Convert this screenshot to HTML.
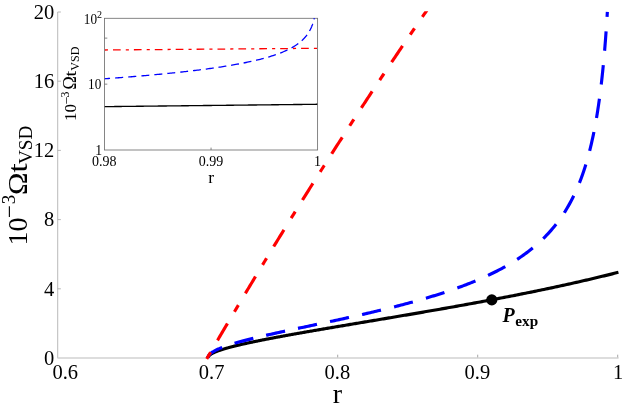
<!DOCTYPE html>
<html><head><meta charset="utf-8"><title>plot</title>
<style>html,body{margin:0;padding:0;background:#fff;}body{width:623px;height:408px;position:relative;overflow:hidden;font-family:"Liberation Serif",serif;}</style></head>
<body>
<svg width="623" height="408" viewBox="0 0 623 408" style="position:absolute;left:0;top:0;will-change:transform" font-family="'Liberation Serif', serif" fill="#000">
<rect width="623" height="408" fill="#fff"/>
<g stroke="#9c9c9c" stroke-width="0.7" fill="none">
<path d="M57.7,12 V358"/>
<path d="M57.7,288.80 h3.2"/>
<path d="M57.7,219.60 h3.2"/>
<path d="M57.7,150.40 h3.2"/>
<path d="M57.7,81.20 h3.2"/>
<path d="M57.7,12.00 h3.2"/>
<path d="M337.70,358 v-3.3" stroke="#808080"/>
<path d="M477.70,358 v-3.3" stroke="#808080"/>
<path d="M617.70,358 v-3.3" stroke="#808080"/>
</g>
<path d="M57.4,358 H618.6" stroke="#d2d2d2" stroke-width="1.6" fill="none"/>
<text x="54.3" y="364.80" font-size="20.5" text-anchor="end">0</text>
<text x="54.3" y="295.60" font-size="20.5" text-anchor="end">4</text>
<text x="54.3" y="226.40" font-size="20.5" text-anchor="end">8</text>
<text x="54.3" y="157.20" font-size="20.5" text-anchor="end">12</text>
<text x="54.3" y="88.00" font-size="20.5" text-anchor="end">16</text>
<text x="54.3" y="18.80" font-size="20.5" text-anchor="end">20</text>
<text x="65.3" y="379" font-size="20.5" text-anchor="middle">0.6</text>
<text x="211.6" y="379" font-size="20.5" text-anchor="middle">0.7</text>
<text x="337.4" y="379" font-size="20.5" text-anchor="middle">0.8</text>
<text x="477.4" y="379" font-size="20.5" text-anchor="middle">0.9</text>
<text x="618" y="379" font-size="20.5" text-anchor="middle">1</text>
<text x="337.5" y="403" font-size="28" text-anchor="middle">r</text>
<g transform="translate(26.2,244.7) rotate(-90)">
<text x="-0.7" y="0.5" font-size="28">10</text>
<text x="26.8" y="-8.9" font-size="23">−</text>
<text x="40.4" y="-11.1" font-size="19">3</text>
<text transform="translate(49.8,0.8) scale(1.08,1)" font-size="28">Ω</text>
<text transform="translate(72.1,0.3) scale(1.18,1)" font-size="28">t</text>
<text x="80.7" y="5.9" font-size="19.2">VSD</text>
</g>
<g stroke="#707070" stroke-width="0.85" fill="none">
<rect x="104.5" y="18.3" width="213.10000000000002" height="131.7"/>
<path d="M104.5,84.15 h2.8 M104.5,38.12 h2.8"/>
<path d="M211.05,150.0 v-2.4"/>
</g>
<clipPath id="ci"><rect x="104.5" y="17.5" width="213.10000000000002" height="132.5"/></clipPath>
<g clip-path="url(#ci)" fill="none" stroke-width="1.3">
<path d="M104.50,50.00 L317.60,48.30" stroke="#f00" stroke-dasharray="3.1 5.0 7.7 5.1" stroke-dashoffset="-0.4"/>
<path d="M104.50,78.80 L105.79,78.71 L107.07,78.62 L108.36,78.52 L109.65,78.43 L110.94,78.33 L112.22,78.24 L113.51,78.14 L114.80,78.04 L116.08,77.95 L117.37,77.85 L118.66,77.75 L119.95,77.65 L121.23,77.55 L122.52,77.45 L123.81,77.35 L125.09,77.25 L126.38,77.15 L127.67,77.04 L128.96,76.94 L130.24,76.83 L131.53,76.73 L132.82,76.62 L134.11,76.52 L135.39,76.41 L136.68,76.30 L137.97,76.19 L139.25,76.08 L140.54,75.97 L141.83,75.86 L143.12,75.75 L144.40,75.64 L145.69,75.53 L146.98,75.41 L148.26,75.30 L149.55,75.18 L150.84,75.07 L152.13,74.95 L153.41,74.83 L154.70,74.71 L155.99,74.59 L157.27,74.47 L158.56,74.35 L159.85,74.23 L161.14,74.10 L162.42,73.98 L163.71,73.85 L165.00,73.73 L166.28,73.60 L167.57,73.47 L168.86,73.34 L170.15,73.21 L171.43,73.08 L172.72,72.95 L174.01,72.81 L175.29,72.68 L176.58,72.54 L177.87,72.40 L179.16,72.27 L180.44,72.13 L181.73,71.99 L183.02,71.84 L184.31,71.70 L185.59,71.55 L186.88,71.41 L188.17,71.26 L189.45,71.11 L190.74,70.96 L192.03,70.81 L193.32,70.65 L194.60,70.50 L195.89,70.34 L197.18,70.18 L198.46,70.02 L199.75,69.86 L201.04,69.70 L202.33,69.53 L203.61,69.37 L204.90,69.20 L206.19,69.03 L207.47,68.86 L208.76,68.68 L210.05,68.50 L211.34,68.33 L212.62,68.15 L213.91,67.96 L215.20,67.78 L216.48,67.59 L217.77,67.40 L219.06,67.21 L220.35,67.02 L221.63,66.82 L222.92,66.62 L224.21,66.42 L225.50,66.21 L226.78,66.01 L228.07,65.80 L229.36,65.58 L230.64,65.37 L231.93,65.15 L233.22,64.92 L234.51,64.70 L235.79,64.47 L237.08,64.23 L238.37,64.00 L239.65,63.76 L240.94,63.51 L242.23,63.27 L243.52,63.01 L244.80,62.76 L246.09,62.49 L247.38,62.23 L248.66,61.96 L249.95,61.68 L251.24,61.40 L252.53,61.12 L253.81,60.82 L255.10,60.53 L256.39,60.22 L257.67,59.91 L258.96,59.60 L260.25,59.27 L261.54,58.94 L262.82,58.60 L264.11,58.26 L265.40,57.90 L266.68,57.54 L267.97,57.17 L269.26,56.78 L270.55,56.39 L271.83,55.99 L273.12,55.58 L274.41,55.15 L275.70,54.71 L276.98,54.26 L278.27,53.79 L279.56,53.31 L280.84,52.81 L282.13,52.30 L283.42,51.76 L284.71,51.21 L285.99,50.63 L287.28,50.03 L288.57,49.40 L289.85,48.75 L291.14,48.06 L292.43,47.34 L293.72,46.59 L295.00,45.79 L296.29,44.94 L296.34,44.91 L296.40,44.87 L296.45,44.84 L296.50,44.80 L296.56,44.76 L296.61,44.73 L296.66,44.69 L296.72,44.65 L296.77,44.62 L296.82,44.58 L296.87,44.54 L296.93,44.51 L296.98,44.47 L297.03,44.43 L297.09,44.40 L297.14,44.36 L297.19,44.32 L297.25,44.28 L297.30,44.25 L297.35,44.21 L297.41,44.17 L297.46,44.13 L297.51,44.09 L297.57,44.06 L297.62,44.02 L297.67,43.98 L297.72,43.94 L297.78,43.90 L297.83,43.86 L297.88,43.82 L297.94,43.79 L297.99,43.75 L298.04,43.71 L298.10,43.67 L298.15,43.63 L298.20,43.59 L298.26,43.55 L298.31,43.51 L298.36,43.47 L298.42,43.43 L298.47,43.39 L298.52,43.35 L298.58,43.31 L298.63,43.27 L298.68,43.23 L298.73,43.19 L298.79,43.15 L298.84,43.11 L298.89,43.07 L298.95,43.03 L299.00,42.99 L299.05,42.94 L299.11,42.90 L299.16,42.86 L299.21,42.82 L299.27,42.78 L299.32,42.74 L299.37,42.70 L299.43,42.65 L299.48,42.61 L299.53,42.57 L299.58,42.53 L299.64,42.48 L299.69,42.44 L299.74,42.40 L299.80,42.36 L299.85,42.31 L299.90,42.27 L299.96,42.23 L300.01,42.18 L300.06,42.14 L300.12,42.10 L300.17,42.05 L300.22,42.01 L300.28,41.96 L300.33,41.92 L300.38,41.88 L300.44,41.83 L300.49,41.79 L300.54,41.74 L300.59,41.70 L300.65,41.65 L300.70,41.61 L300.75,41.56 L300.81,41.52 L300.86,41.47 L300.91,41.42 L300.97,41.38 L301.02,41.33 L301.07,41.29 L301.13,41.24 L301.18,41.19 L301.23,41.15 L301.29,41.10 L301.34,41.05 L301.39,41.01 L301.44,40.96 L301.50,40.91 L301.55,40.86 L301.60,40.82 L301.66,40.77 L301.71,40.72 L301.76,40.67 L301.82,40.62 L301.87,40.58 L301.92,40.53 L301.98,40.48 L302.03,40.43 L302.08,40.38 L302.14,40.33 L302.19,40.28 L302.24,40.23 L302.29,40.18 L302.35,40.13 L302.40,40.08 L302.45,40.03 L302.51,39.98 L302.56,39.93 L302.61,39.88 L302.67,39.83 L302.72,39.78 L302.77,39.73 L302.83,39.67 L302.88,39.62 L302.93,39.57 L302.99,39.52 L303.04,39.47 L303.09,39.41 L303.15,39.36 L303.20,39.31 L303.25,39.26 L303.30,39.20 L303.36,39.15 L303.41,39.09 L303.46,39.04 L303.52,38.99 L303.57,38.93 L303.62,38.88 L303.68,38.82 L303.73,38.77 L303.78,38.71 L303.84,38.66 L303.89,38.60 L303.94,38.55 L304.00,38.49 L304.05,38.43 L304.10,38.38 L304.15,38.32 L304.21,38.26 L304.26,38.21 L304.31,38.15 L304.37,38.09 L304.42,38.03 L304.47,37.98 L304.53,37.92 L304.58,37.86 L304.63,37.80 L304.69,37.74 L304.74,37.68 L304.79,37.62 L304.85,37.56 L304.90,37.50 L304.95,37.44 L305.01,37.38 L305.06,37.32 L305.11,37.26 L305.16,37.20 L305.22,37.14 L305.27,37.08 L305.32,37.01 L305.38,36.95 L305.43,36.89 L305.48,36.83 L305.54,36.76 L305.59,36.70 L305.64,36.64 L305.70,36.57 L305.75,36.51 L305.80,36.44 L305.86,36.38 L305.91,36.31 L305.96,36.25 L306.01,36.18 L306.07,36.12 L306.12,36.05 L306.17,35.98 L306.23,35.92 L306.28,35.85 L306.33,35.78 L306.39,35.71 L306.44,35.65 L306.49,35.58 L306.55,35.51 L306.60,35.44 L306.65,35.37 L306.71,35.30 L306.76,35.23 L306.81,35.16 L306.87,35.09 L306.92,35.02 L306.97,34.95 L307.02,34.87 L307.08,34.80 L307.13,34.73 L307.18,34.66 L307.24,34.58 L307.29,34.51 L307.34,34.44 L307.40,34.36 L307.45,34.29 L307.50,34.21 L307.56,34.13 L307.61,34.06 L307.66,33.98 L307.72,33.91 L307.77,33.83 L307.82,33.75 L307.87,33.67 L307.93,33.59 L307.98,33.51 L308.03,33.44 L308.09,33.36 L308.14,33.27 L308.19,33.19 L308.25,33.11 L308.30,33.03 L308.35,32.95 L308.41,32.87 L308.46,32.78 L308.51,32.70 L308.57,32.62 L308.62,32.53 L308.67,32.45 L308.73,32.36 L308.78,32.27 L308.83,32.19 L308.88,32.10 L308.94,32.01 L308.99,31.92 L309.04,31.84 L309.10,31.75 L309.15,31.66 L309.20,31.57 L309.26,31.47 L309.31,31.38 L309.36,31.29 L309.42,31.20 L309.47,31.10 L309.52,31.01 L309.58,30.92 L309.63,30.82 L309.68,30.72 L309.73,30.63 L309.79,30.53 L309.84,30.43 L309.89,30.33 L309.95,30.24 L310.00,30.14 L310.05,30.03 L310.11,29.93 L310.16,29.83 L310.21,29.73 L310.27,29.63 L310.32,29.52 L310.37,29.42 L310.43,29.31 L310.48,29.20 L310.53,29.10 L310.59,28.99 L310.64,28.88 L310.69,28.77 L310.74,28.66 L310.80,28.55 L310.85,28.43 L310.90,28.32 L310.96,28.21 L311.01,28.09 L311.06,27.98 L311.12,27.86 L311.17,27.74 L311.22,27.62 L311.28,27.50 L311.33,27.38 L311.38,27.26 L311.44,27.14 L311.49,27.01 L311.54,26.89 L311.59,26.76 L311.65,26.63 L311.70,26.51 L311.75,26.38 L311.81,26.24 L311.86,26.11 L311.91,25.98 L311.97,25.85 L312.02,25.71 L312.07,25.57 L312.13,25.43 L312.18,25.29 L312.23,25.15 L312.29,25.01 L312.34,24.87 L312.39,24.72 L312.45,24.57 L312.50,24.43 L312.55,24.28 L312.60,24.12 L312.66,23.97 L312.71,23.82 L312.76,23.66 L312.82,23.50 L312.87,23.34 L312.92,23.18 L312.98,23.02 L313.03,22.85 L313.08,22.68 L313.14,22.51 L313.19,22.34 L313.24,22.17 L313.30,21.99 L313.35,21.81 L313.40,21.63 L313.45,21.45 L313.51,21.27 L313.56,21.08 L313.61,20.89 L313.67,20.70 L313.72,20.50 L313.77,20.31 L313.83,20.11 L313.88,19.90 L313.93,19.70 L313.99,19.49 L314.04,19.28 L314.09,19.06 L314.15,18.84 L314.20,18.62 L314.25,18.39 L314.30,18.17" stroke="#00f" stroke-dasharray="5.55 5.23 7.95 5.18 7.95 5.14 7.95 5.09 7.95 5.05 7.95 5.00 7.95 4.96 7.95 4.92 7.95 4.87 7.95 4.83 7.95 4.78 7.95 4.74 7.95 4.69 7.95 4.65 7.95 4.60 7.95 4.56 7.95 4.51 7.95 4.47 7.95 4.42 7.95 4.38 7.95 4.34 7.95 4.29 7.95 4.25 7.95 500.00"/>
<path d="M104.50,106.65 L105.79,106.63 L107.07,106.62 L108.36,106.61 L109.65,106.59 L110.94,106.58 L112.22,106.56 L113.51,106.55 L114.80,106.53 L116.08,106.52 L117.37,106.50 L118.66,106.49 L119.95,106.48 L121.23,106.46 L122.52,106.45 L123.81,106.43 L125.09,106.42 L126.38,106.40 L127.67,106.39 L128.96,106.38 L130.24,106.36 L131.53,106.35 L132.82,106.33 L134.11,106.32 L135.39,106.30 L136.68,106.29 L137.97,106.27 L139.25,106.26 L140.54,106.25 L141.83,106.23 L143.12,106.22 L144.40,106.20 L145.69,106.19 L146.98,106.17 L148.26,106.16 L149.55,106.15 L150.84,106.13 L152.13,106.12 L153.41,106.10 L154.70,106.09 L155.99,106.07 L157.27,106.06 L158.56,106.04 L159.85,106.03 L161.14,106.02 L162.42,106.00 L163.71,105.99 L165.00,105.97 L166.28,105.96 L167.57,105.94 L168.86,105.93 L170.15,105.92 L171.43,105.90 L172.72,105.89 L174.01,105.87 L175.29,105.86 L176.58,105.84 L177.87,105.83 L179.16,105.82 L180.44,105.80 L181.73,105.79 L183.02,105.77 L184.31,105.76 L185.59,105.74 L186.88,105.73 L188.17,105.71 L189.45,105.70 L190.74,105.69 L192.03,105.67 L193.32,105.66 L194.60,105.64 L195.89,105.63 L197.18,105.61 L198.46,105.60 L199.75,105.59 L201.04,105.57 L202.33,105.56 L203.61,105.54 L204.90,105.53 L206.19,105.51 L207.47,105.50 L208.76,105.49 L210.05,105.47 L211.34,105.46 L212.62,105.44 L213.91,105.43 L215.20,105.41 L216.48,105.40 L217.77,105.39 L219.06,105.37 L220.35,105.36 L221.63,105.34 L222.92,105.33 L224.21,105.31 L225.50,105.30 L226.78,105.28 L228.07,105.27 L229.36,105.26 L230.64,105.24 L231.93,105.23 L233.22,105.21 L234.51,105.20 L235.79,105.18 L237.08,105.17 L238.37,105.16 L239.65,105.14 L240.94,105.13 L242.23,105.11 L243.52,105.10 L244.80,105.08 L246.09,105.07 L247.38,105.06 L248.66,105.04 L249.95,105.03 L251.24,105.01 L252.53,105.00 L253.81,104.98 L255.10,104.97 L256.39,104.96 L257.67,104.94 L258.96,104.93 L260.25,104.91 L261.54,104.90 L262.82,104.88 L264.11,104.87 L265.40,104.86 L266.68,104.84 L267.97,104.83 L269.26,104.81 L270.55,104.80 L271.83,104.78 L273.12,104.77 L274.41,104.76 L275.70,104.74 L276.98,104.73 L278.27,104.71 L279.56,104.70 L280.84,104.68 L282.13,104.67 L283.42,104.66 L284.71,104.64 L285.99,104.63 L287.28,104.61 L288.57,104.60 L289.85,104.58 L291.14,104.57 L292.43,104.55 L293.72,104.54 L295.00,104.53 L296.29,104.51 L296.34,104.51 L296.40,104.51 L296.45,104.51 L296.50,104.51 L296.56,104.51 L296.61,104.51 L296.66,104.51 L296.72,104.51 L296.77,104.51 L296.82,104.51 L296.87,104.51 L296.93,104.50 L296.98,104.50 L297.03,104.50 L297.09,104.50 L297.14,104.50 L297.19,104.50 L297.25,104.50 L297.30,104.50 L297.35,104.50 L297.41,104.50 L297.46,104.50 L297.51,104.50 L297.57,104.50 L297.62,104.50 L297.67,104.50 L297.72,104.50 L297.78,104.50 L297.83,104.49 L297.88,104.49 L297.94,104.49 L297.99,104.49 L298.04,104.49 L298.10,104.49 L298.15,104.49 L298.20,104.49 L298.26,104.49 L298.31,104.49 L298.36,104.49 L298.42,104.49 L298.47,104.49 L298.52,104.49 L298.58,104.49 L298.63,104.49 L298.68,104.49 L298.73,104.48 L298.79,104.48 L298.84,104.48 L298.89,104.48 L298.95,104.48 L299.00,104.48 L299.05,104.48 L299.11,104.48 L299.16,104.48 L299.21,104.48 L299.27,104.48 L299.32,104.48 L299.37,104.48 L299.43,104.48 L299.48,104.48 L299.53,104.48 L299.58,104.48 L299.64,104.47 L299.69,104.47 L299.74,104.47 L299.80,104.47 L299.85,104.47 L299.90,104.47 L299.96,104.47 L300.01,104.47 L300.06,104.47 L300.12,104.47 L300.17,104.47 L300.22,104.47 L300.28,104.47 L300.33,104.47 L300.38,104.47 L300.44,104.47 L300.49,104.47 L300.54,104.46 L300.59,104.46 L300.65,104.46 L300.70,104.46 L300.75,104.46 L300.81,104.46 L300.86,104.46 L300.91,104.46 L300.97,104.46 L301.02,104.46 L301.07,104.46 L301.13,104.46 L301.18,104.46 L301.23,104.46 L301.29,104.46 L301.34,104.46 L301.39,104.46 L301.44,104.45 L301.50,104.45 L301.55,104.45 L301.60,104.45 L301.66,104.45 L301.71,104.45 L301.76,104.45 L301.82,104.45 L301.87,104.45 L301.92,104.45 L301.98,104.45 L302.03,104.45 L302.08,104.45 L302.14,104.45 L302.19,104.45 L302.24,104.45 L302.29,104.45 L302.35,104.44 L302.40,104.44 L302.45,104.44 L302.51,104.44 L302.56,104.44 L302.61,104.44 L302.67,104.44 L302.72,104.44 L302.77,104.44 L302.83,104.44 L302.88,104.44 L302.93,104.44 L302.99,104.44 L303.04,104.44 L303.09,104.44 L303.15,104.44 L303.20,104.44 L303.25,104.43 L303.30,104.43 L303.36,104.43 L303.41,104.43 L303.46,104.43 L303.52,104.43 L303.57,104.43 L303.62,104.43 L303.68,104.43 L303.73,104.43 L303.78,104.43 L303.84,104.43 L303.89,104.43 L303.94,104.43 L304.00,104.43 L304.05,104.43 L304.10,104.43 L304.15,104.42 L304.21,104.42 L304.26,104.42 L304.31,104.42 L304.37,104.42 L304.42,104.42 L304.47,104.42 L304.53,104.42 L304.58,104.42 L304.63,104.42 L304.69,104.42 L304.74,104.42 L304.79,104.42 L304.85,104.42 L304.90,104.42 L304.95,104.42 L305.01,104.42 L305.06,104.41 L305.11,104.41 L305.16,104.41 L305.22,104.41 L305.27,104.41 L305.32,104.41 L305.38,104.41 L305.43,104.41 L305.48,104.41 L305.54,104.41 L305.59,104.41 L305.64,104.41 L305.70,104.41 L305.75,104.41 L305.80,104.41 L305.86,104.41 L305.91,104.41 L305.96,104.40 L306.01,104.40 L306.07,104.40 L306.12,104.40 L306.17,104.40 L306.23,104.40 L306.28,104.40 L306.33,104.40 L306.39,104.40 L306.44,104.40 L306.49,104.40 L306.55,104.40 L306.60,104.40 L306.65,104.40 L306.71,104.40 L306.76,104.40 L306.81,104.40 L306.87,104.39 L306.92,104.39 L306.97,104.39 L307.02,104.39 L307.08,104.39 L307.13,104.39 L307.18,104.39 L307.24,104.39 L307.29,104.39 L307.34,104.39 L307.40,104.39 L307.45,104.39 L307.50,104.39 L307.56,104.39 L307.61,104.39 L307.66,104.39 L307.72,104.39 L307.77,104.38 L307.82,104.38 L307.87,104.38 L307.93,104.38 L307.98,104.38 L308.03,104.38 L308.09,104.38 L308.14,104.38 L308.19,104.38 L308.25,104.38 L308.30,104.38 L308.35,104.38 L308.41,104.38 L308.46,104.38 L308.51,104.38 L308.57,104.38 L308.62,104.38 L308.67,104.37 L308.73,104.37 L308.78,104.37 L308.83,104.37 L308.88,104.37 L308.94,104.37 L308.99,104.37 L309.04,104.37 L309.10,104.37 L309.15,104.37 L309.20,104.37 L309.26,104.37 L309.31,104.37 L309.36,104.37 L309.42,104.37 L309.47,104.37 L309.52,104.37 L309.58,104.36 L309.63,104.36 L309.68,104.36 L309.73,104.36 L309.79,104.36 L309.84,104.36 L309.89,104.36 L309.95,104.36 L310.00,104.36 L310.05,104.36 L310.11,104.36 L310.16,104.36 L310.21,104.36 L310.27,104.36 L310.32,104.36 L310.37,104.36 L310.43,104.36 L310.48,104.35 L310.53,104.35 L310.59,104.35 L310.64,104.35 L310.69,104.35 L310.74,104.35 L310.80,104.35 L310.85,104.35 L310.90,104.35 L310.96,104.35 L311.01,104.35 L311.06,104.35 L311.12,104.35 L311.17,104.35 L311.22,104.35 L311.28,104.35 L311.33,104.35 L311.38,104.34 L311.44,104.34 L311.49,104.34 L311.54,104.34 L311.59,104.34 L311.65,104.34 L311.70,104.34 L311.75,104.34 L311.81,104.34 L311.86,104.34 L311.91,104.34 L311.97,104.34 L312.02,104.34 L312.07,104.34 L312.13,104.34 L312.18,104.34 L312.23,104.34 L312.29,104.33 L312.34,104.33 L312.39,104.33 L312.45,104.33 L312.50,104.33 L312.55,104.33 L312.60,104.33 L312.66,104.33 L312.71,104.33 L312.76,104.33 L312.82,104.33 L312.87,104.33 L312.92,104.33 L312.98,104.33 L313.03,104.33 L313.08,104.33 L313.14,104.32 L313.19,104.32 L313.24,104.32 L313.30,104.32 L313.35,104.32 L313.40,104.32 L313.45,104.32 L313.51,104.32 L313.56,104.32 L313.61,104.32 L313.67,104.32 L313.72,104.32 L313.77,104.32 L313.83,104.32 L313.88,104.32 L313.93,104.32 L313.99,104.32 L314.04,104.31 L314.09,104.31 L314.15,104.31 L314.20,104.31 L314.25,104.31 L314.30,104.31 L314.36,104.31 L314.41,104.31 L314.46,104.31 L314.52,104.31 L314.57,104.31 L314.62,104.31 L314.68,104.31 L314.73,104.31 L314.78,104.31 L314.84,104.31 L314.89,104.31 L314.94,104.30 L315.00,104.30 L315.05,104.30 L315.10,104.30 L315.16,104.30 L315.21,104.30 L315.26,104.30 L315.31,104.30 L315.37,104.30 L315.42,104.30 L315.47,104.30 L315.53,104.30 L315.58,104.30 L315.63,104.30 L315.69,104.30 L315.74,104.30 L315.79,104.30 L315.85,104.29 L315.90,104.29 L315.95,104.29 L316.01,104.29 L316.06,104.29 L316.11,104.29 L316.16,104.29 L316.22,104.29 L316.27,104.29 L316.32,104.29 L316.38,104.29 L316.43,104.29 L316.48,104.29 L316.54,104.29 L316.59,104.29 L316.64,104.29 L316.70,104.29 L316.75,104.28 L316.80,104.28 L316.86,104.28 L316.91,104.28 L316.96,104.28 L317.02,104.28 L317.07,104.28 L317.12,104.28 L317.17,104.28 L317.23,104.28 L317.28,104.28 L317.33,104.28 L317.39,104.28 L317.44,104.28 L317.49,104.28" stroke="#000" stroke-width="1.35"/>
</g>
<text transform="translate(97.0,24.1) scale(0.95,1)" font-size="13.9" text-anchor="end">10</text><text x="97.1" y="17.9" font-size="10">2</text>
<text transform="translate(101.3,89.1) scale(0.95,1)" font-size="13.9" text-anchor="end">10</text>
<text x="102.0" y="154.7" font-size="13.7" text-anchor="end">1</text>
<text x="104.2" y="165.6" font-size="14" text-anchor="middle">0.98</text>
<text x="211.1" y="165.6" font-size="14" text-anchor="middle">0.99</text>
<text x="317.5" y="165.6" font-size="14" text-anchor="middle">1</text>
<text x="211.2" y="182.8" font-size="17.6" text-anchor="middle">r</text>
<g transform="translate(76,121) rotate(-90)">
<text x="0" y="0" font-size="17">10</text>
<text x="16.8" y="-5.2" font-size="14">−</text>
<text x="23.6" y="-7" font-size="11.8">3</text>
<text transform="translate(31.2,0) scale(1.03,1)" font-size="17.8">Ω</text>
<text transform="translate(44.3,0) scale(1.25,1)" font-size="17">t</text>
<text x="50.3" y="3.1" font-size="12">VSD</text>
</g>
<clipPath id="cm"><rect x="50" y="11.3" width="573" height="349"/></clipPath>
<g clip-path="url(#cm)" fill="none" stroke-width="3.15">
<path d="M207.95,358.00 L207.95,357.89 L207.96,357.78 L207.97,357.67 L207.99,357.56 L208.01,357.44 L208.04,357.33 L208.08,357.22 L208.11,357.11 L208.16,357.00 L208.21,356.89 L208.26,356.78 L208.32,356.67 L208.39,356.56 L208.45,356.44 L208.53,356.33 L208.61,356.22 L208.69,356.11 L208.78,356.00 L208.88,355.89 L208.98,355.78 L209.09,355.66 L209.20,355.55 L209.31,355.44 L209.43,355.33 L209.56,355.22 L209.69,355.10 L209.83,354.99 L209.97,354.88 L210.12,354.77 L210.27,354.65 L210.43,354.54 L210.59,354.43 L210.76,354.31 L210.93,354.20 L211.11,354.09 L211.29,353.97 L211.48,353.86 L211.67,353.75 L211.87,353.63 L212.07,353.52 L212.28,353.41 L212.50,353.29 L212.72,353.18 L212.94,353.06 L213.17,352.95 L213.41,352.83 L213.64,352.72 L213.89,352.60 L214.14,352.49 L214.40,352.37 L214.66,352.26 L214.92,352.14 L215.19,352.02 L215.47,351.91 L215.75,351.79 L216.04,351.67 L216.33,351.56 L216.62,351.44 L216.92,351.32 L217.23,351.21 L217.54,351.09 L217.86,350.97 L218.18,350.85 L218.51,350.73 L218.84,350.61 L219.18,350.49 L219.52,350.38 L219.87,350.26 L220.22,350.14 L220.58,350.02 L220.95,349.90 L221.32,349.78 L221.69,349.65 L222.07,349.53 L222.45,349.41 L222.84,349.29 L223.24,349.17 L223.64,349.05 L224.04,348.92 L224.45,348.80 L224.87,348.68 L225.29,348.56 L225.71,348.43 L226.14,348.31 L226.58,348.18 L227.02,348.06 L227.46,347.93 L227.92,347.81 L228.37,347.68 L228.83,347.56 L229.30,347.43 L229.77,347.31 L230.25,347.18 L230.73,347.05 L231.22,346.92 L231.71,346.80 L232.21,346.67 L232.71,346.54 L233.22,346.41 L233.73,346.28 L234.25,346.15 L234.77,346.02 L235.30,345.89 L235.84,345.76 L236.38,345.63 L236.92,345.50 L237.47,345.37 L238.02,345.24 L238.58,345.10 L239.15,344.97 L239.72,344.84 L240.29,344.71 L240.87,344.57 L241.46,344.44 L242.05,344.30 L242.64,344.17 L243.24,344.03 L243.85,343.90 L244.46,343.76 L245.08,343.62 L245.70,343.49 L246.33,343.35 L246.96,343.21 L247.59,343.07 L248.24,342.93 L248.88,342.79 L249.54,342.65 L250.19,342.51 L250.86,342.37 L251.52,342.23 L252.20,342.09 L252.87,341.95 L253.56,341.81 L254.25,341.66 L254.94,341.52 L255.64,341.38 L256.34,341.23 L257.05,341.09 L257.77,340.94 L258.48,340.80 L259.21,340.65 L259.94,340.51 L260.67,340.36 L261.41,340.21 L262.16,340.06 L262.91,339.92 L263.66,339.77 L264.42,339.62 L265.19,339.47 L265.96,339.32 L266.74,339.17 L267.52,339.01 L268.31,338.86 L269.10,338.71 L269.89,338.56 L270.70,338.40 L271.50,338.25 L272.31,338.10 L273.13,337.94 L273.95,337.79 L274.78,337.63 L275.61,337.47 L276.45,337.32 L277.30,337.16 L278.14,337.00 L279.00,336.84 L279.86,336.68 L280.72,336.52 L281.59,336.36 L282.46,336.20 L283.34,336.04 L284.23,335.88 L285.12,335.72 L286.01,335.55 L286.91,335.39 L287.82,335.23 L288.73,335.06 L289.64,334.90 L290.56,334.73 L291.49,334.56 L292.42,334.40 L293.35,334.23 L294.29,334.06 L295.24,333.89 L296.19,333.72 L297.15,333.55 L298.11,333.38 L299.08,333.21 L300.05,333.04 L301.03,332.87 L302.01,332.69 L303.00,332.52 L303.99,332.35 L304.99,332.17 L305.99,332.00 L307.00,331.82 L308.01,331.64 L309.03,331.47 L310.05,331.29 L311.08,331.11 L312.12,330.93 L313.16,330.75 L314.20,330.57 L315.25,330.39 L316.30,330.21 L317.36,330.02 L318.43,329.84 L319.50,329.66 L320.57,329.47 L321.65,329.29 L322.74,329.10 L323.83,328.91 L324.93,328.73 L326.03,328.54 L327.13,328.35 L328.24,328.16 L329.36,327.97 L330.48,327.78 L331.61,327.59 L332.74,327.40 L333.88,327.20 L335.02,327.01 L336.17,326.81 L337.32,326.62 L338.48,326.42 L339.64,326.23 L340.81,326.03 L341.98,325.83 L343.16,325.63 L344.34,325.43 L345.53,325.23 L346.72,325.03 L347.92,324.83 L349.13,324.63 L350.34,324.42 L351.55,324.22 L352.77,324.01 L354.00,323.81 L355.23,323.60 L356.46,323.39 L357.70,323.18 L358.95,322.98 L360.20,322.77 L361.45,322.55 L362.71,322.34 L363.98,322.13 L365.25,321.92 L366.53,321.70 L367.81,321.49 L369.09,321.27 L370.39,321.05 L371.68,320.84 L372.98,320.62 L374.29,320.40 L375.60,320.18 L376.92,319.96 L378.24,319.73 L379.57,319.51 L380.91,319.29 L382.24,319.06 L383.59,318.83 L384.94,318.61 L386.29,318.38 L387.65,318.15 L389.01,317.92 L390.38,317.69 L391.76,317.46 L393.13,317.22 L394.52,316.99 L395.91,316.76 L397.30,316.52 L398.70,316.28 L400.11,316.04 L401.52,315.80 L402.93,315.56 L404.36,315.32 L405.78,315.08 L407.21,314.84 L408.65,314.59 L410.09,314.35 L411.54,314.10 L412.99,313.85 L414.44,313.60 L415.91,313.35 L417.37,313.10 L418.85,312.85 L420.32,312.59 L421.81,312.34 L423.29,312.08 L424.79,311.82 L426.28,311.57 L427.79,311.31 L429.30,311.04 L430.81,310.78 L432.33,310.52 L433.85,310.25 L435.38,309.99 L436.91,309.72 L438.45,309.45 L440.00,309.18 L441.55,308.91 L443.10,308.63 L444.66,308.36 L446.23,308.08 L447.80,307.80 L449.37,307.53 L450.95,307.24 L452.54,306.96 L454.13,306.68 L455.73,306.39 L457.33,306.11 L458.93,305.82 L460.54,305.53 L462.16,305.24 L463.78,304.95 L465.41,304.65 L467.04,304.36 L468.68,304.06 L470.32,303.76 L471.97,303.46 L473.62,303.16 L475.28,302.85 L476.94,302.55 L478.61,302.24 L480.28,301.93 L481.96,301.62 L483.65,301.31 L485.34,300.99 L487.03,300.67 L488.73,300.35 L490.43,300.03 L492.14,299.71 L493.86,299.39 L495.58,299.06 L497.30,298.73 L499.03,298.40 L500.77,298.07 L502.51,297.74 L504.25,297.40 L506.00,297.06 L507.76,296.72 L509.52,296.38 L511.29,296.03 L513.06,295.69 L514.83,295.34 L516.62,294.98 L518.40,294.63 L520.19,294.27 L521.99,293.92 L523.79,293.56 L525.60,293.19 L527.41,292.83 L529.23,292.46 L531.05,292.09 L532.88,291.71 L534.71,291.34 L536.55,290.96 L538.40,290.58 L540.25,290.20 L542.10,289.81 L543.96,289.42 L545.82,289.03 L547.69,288.64 L549.57,288.24 L551.45,287.84 L553.33,287.44 L555.22,287.03 L557.12,286.62 L559.02,286.21 L560.92,285.80 L562.83,285.38 L564.75,284.96 L566.67,284.54 L568.59,284.11 L570.53,283.68 L572.46,283.25 L574.40,282.81 L576.35,282.37 L578.30,281.93 L580.26,281.48 L582.22,281.03 L584.19,280.58 L586.16,280.12 L588.14,279.66 L590.12,279.20 L592.11,278.73 L594.10,278.26 L596.10,277.79 L598.10,277.31 L600.11,276.82 L602.13,276.34 L604.14,275.85 L606.17,275.35 L608.20,274.86 L610.23,274.35 L612.27,273.85 L614.32,273.34 L616.37,272.82 L618.42,272.30" stroke="#000"/>
<path d="M207.95,358.00 L207.96,357.78 L207.97,357.57 L208.00,357.35 L208.05,357.14 L208.10,356.92 L208.17,356.71 L208.25,356.49 L208.34,356.28 L208.45,356.06 L208.56,355.85 L208.69,355.63 L208.83,355.41 L208.98,355.20 L209.15,354.98 L209.33,354.77 L209.52,354.55 L209.72,354.33 L209.93,354.12 L210.16,353.90 L210.40,353.68 L210.65,353.47 L210.91,353.25 L211.19,353.03 L211.48,352.81 L211.78,352.59 L212.09,352.38 L212.42,352.16 L212.75,351.94 L213.10,351.72 L213.46,351.50 L213.84,351.28 L214.22,351.06 L214.62,350.84 L215.03,350.62 L215.46,350.40 L215.89,350.17 L216.34,349.95 L216.80,349.73 L217.27,349.51 L217.75,349.28 L218.25,349.06 L218.76,348.84 L219.28,348.61 L219.81,348.39 L220.36,348.16 L220.91,347.94 L221.48,347.71 L222.07,347.48 L222.66,347.25 L223.27,347.03 L223.89,346.80 L224.52,346.57 L225.16,346.34 L225.82,346.11 L226.48,345.88 L227.16,345.65 L227.86,345.41 L228.56,345.18 L229.28,344.95 L230.01,344.71 L230.75,344.48 L231.50,344.24 L232.27,344.01 L233.05,343.77 L233.84,343.53 L234.64,343.29 L235.45,343.06 L236.28,342.82 L237.12,342.57 L237.97,342.33 L238.84,342.09 L239.71,341.85 L240.60,341.60 L241.50,341.36 L242.41,341.11 L243.34,340.86 L244.28,340.62 L245.23,340.37 L246.19,340.12 L247.16,339.87 L248.15,339.61 L249.15,339.36 L250.16,339.11 L251.18,338.85 L252.22,338.60 L253.26,338.34 L254.32,338.08 L255.40,337.82 L256.48,337.56 L257.58,337.30 L258.69,337.04 L259.81,336.77 L260.94,336.50 L262.09,336.24 L263.25,335.97 L264.42,335.70 L265.60,335.43 L266.79,335.16 L268.00,334.88 L269.55,334.53 L271.10,334.18 L272.64,333.84 L274.19,333.50 L275.74,333.15 L277.29,332.81 L278.83,332.47 L280.38,332.14 L281.93,331.80 L283.48,331.46 L285.03,331.13 L286.57,330.80 L288.12,330.46 L289.67,330.13 L291.22,329.80 L292.76,329.47 L294.31,329.14 L295.86,328.81 L297.41,328.48 L298.95,328.15 L300.50,327.83 L302.05,327.50 L303.60,327.17 L305.15,326.84 L306.69,326.52 L308.24,326.19 L309.79,325.86 L311.34,325.54 L312.88,325.21 L314.43,324.88 L315.98,324.56 L317.53,324.23 L319.08,323.90 L320.62,323.57 L322.17,323.24 L323.72,322.92 L325.27,322.59 L326.81,322.26 L328.36,321.93 L329.91,321.60 L331.46,321.27 L333.01,320.93 L334.55,320.60 L336.10,320.27 L337.65,319.93 L339.20,319.60 L340.74,319.26 L342.29,318.93 L343.84,318.59 L345.39,318.25 L346.93,317.91 L348.48,317.57 L350.03,317.23 L351.58,316.89 L353.13,316.54 L354.67,316.20 L356.22,315.85 L357.77,315.50 L359.32,315.15 L360.86,314.80 L362.41,314.45 L363.96,314.10 L365.51,313.74 L367.06,313.39 L368.60,313.03 L370.15,312.67 L371.70,312.31 L373.25,311.94 L374.79,311.58 L376.34,311.21 L377.89,310.84 L379.44,310.47 L380.98,310.10 L382.53,309.73 L384.08,309.35 L385.63,308.97 L387.18,308.59 L388.72,308.21 L390.27,307.82 L391.82,307.44 L393.37,307.05 L394.91,306.65 L396.46,306.26 L398.01,305.86 L399.56,305.46 L401.11,305.06 L402.65,304.65 L404.20,304.25 L405.75,303.83 L407.30,303.42 L408.84,303.00 L410.39,302.58 L411.94,302.16 L413.49,301.73 L415.04,301.30 L416.58,300.87 L418.13,300.44 L419.68,300.00 L421.23,299.55 L422.77,299.10 L424.32,298.65 L425.87,298.20 L427.42,297.74 L428.96,297.28 L430.51,296.81 L432.06,296.34 L433.61,295.87 L435.16,295.39 L436.70,294.90 L438.25,294.41 L439.80,293.92 L441.35,293.42 L442.89,292.92 L444.44,292.41 L445.99,291.90 L447.54,291.38 L449.09,290.86 L450.63,290.33 L452.18,289.79 L453.73,289.25 L455.28,288.70 L456.82,288.15 L458.37,287.59 L459.92,287.02 L461.47,286.45 L463.02,285.87 L464.56,285.29 L466.11,284.69 L467.66,284.09 L469.21,283.48 L470.75,282.87 L472.30,282.24 L473.85,281.61 L475.40,280.97 L476.94,280.32 L478.49,279.66 L480.04,278.99 L481.59,278.32 L483.14,277.63 L484.68,276.93 L486.23,276.23 L487.78,275.51 L489.33,274.78 L490.87,274.04 L492.42,273.29 L493.97,272.53 L495.52,271.75 L497.07,270.97 L498.61,270.16 L500.16,269.35 L501.71,268.52 L503.26,267.68 L504.80,266.82 L506.35,265.95 L507.90,265.06 L509.45,264.15 L510.99,263.23 L512.54,262.29 L514.09,261.33 L515.64,260.35 L517.19,259.35 L518.73,258.33 L520.28,257.29 L521.83,256.22 L523.38,255.14 L524.92,254.03 L526.47,252.89 L528.02,251.73 L529.57,250.54 L531.12,249.32 L532.66,248.07 L534.21,246.79 L535.76,245.47 L537.31,244.13 L538.85,242.74 L540.40,241.32 L541.95,239.86 L543.50,238.36 L545.05,236.81 L546.59,235.22 L548.14,233.57 L549.69,231.88 L551.24,230.13 L552.78,228.33 L554.33,226.46 L555.88,224.53 L557.43,222.52 L558.97,220.45 L560.52,218.30 L562.07,216.06 L563.62,213.73 L565.17,211.31 L566.71,208.78 L568.26,206.14 L569.81,203.39 L571.36,200.50 L572.90,197.47 L574.45,194.29 L576.00,190.94 L576.11,190.69 L576.22,190.45 L576.33,190.20 L576.44,189.95 L576.55,189.70 L576.66,189.45 L576.77,189.20 L576.88,188.95 L576.99,188.70 L577.10,188.45 L577.21,188.19 L577.32,187.94 L577.43,187.68 L577.54,187.42 L577.65,187.16 L577.76,186.91 L577.87,186.64 L577.98,186.38 L578.09,186.12 L578.20,185.86 L578.31,185.59 L578.42,185.33 L578.53,185.06 L578.64,184.79 L578.75,184.52 L578.86,184.25 L578.97,183.98 L579.08,183.71 L579.19,183.44 L579.30,183.16 L579.41,182.89 L579.52,182.61 L579.63,182.33 L579.74,182.05 L579.85,181.77 L579.96,181.49 L580.07,181.21 L580.18,180.92 L580.29,180.64 L580.40,180.35 L580.51,180.07 L580.62,179.78 L580.73,179.49 L580.84,179.20 L580.95,178.90 L581.06,178.61 L581.17,178.32 L581.28,178.02 L581.39,177.72 L581.50,177.42 L581.61,177.12 L581.72,176.82 L581.83,176.52 L581.94,176.21 L582.05,175.91 L582.16,175.60 L582.27,175.29 L582.38,174.98 L582.49,174.67 L582.60,174.36 L582.71,174.05 L582.82,173.73 L582.93,173.42 L583.04,173.10 L583.15,172.78 L583.26,172.46 L583.37,172.14 L583.48,171.81 L583.59,171.49 L583.70,171.16 L583.81,170.83 L583.92,170.50 L584.03,170.17 L584.14,169.84 L584.25,169.50 L584.36,169.16 L584.47,168.83 L584.58,168.49 L584.69,168.15 L584.80,167.80 L584.91,167.46 L585.02,167.11 L585.13,166.76 L585.24,166.42 L585.35,166.06 L585.46,165.71 L585.57,165.36 L585.68,165.00 L585.79,164.64 L585.90,164.28 L586.01,163.92 L586.12,163.56 L586.23,163.19 L586.34,162.82 L586.45,162.45 L586.56,162.08 L586.67,161.71 L586.78,161.34 L586.89,160.96 L587.00,160.58 L587.11,160.20 L587.22,159.82 L587.33,159.43 L587.44,159.04 L587.55,158.66 L587.66,158.27 L587.77,157.87 L587.88,157.48 L587.99,157.08 L588.10,156.68 L588.21,156.28 L588.32,155.88 L588.43,155.47 L588.54,155.06 L588.65,154.65 L588.76,154.24 L588.87,153.82 L588.98,153.41 L589.09,152.99 L589.20,152.57 L589.31,152.14 L589.42,151.72 L589.53,151.29 L589.64,150.86 L589.75,150.42 L589.86,149.99 L589.97,149.55 L590.08,149.11 L590.19,148.66 L590.30,148.22 L590.41,147.77 L590.52,147.32 L590.63,146.86 L590.74,146.40 L590.85,145.95 L590.96,145.48 L591.07,145.02 L591.18,144.55 L591.29,144.08 L591.40,143.61 L591.51,143.13 L591.62,142.65 L591.73,142.17 L591.84,141.68 L591.95,141.19 L592.06,140.70 L592.17,140.21 L592.28,139.71 L592.39,139.21 L592.51,138.71 L592.62,138.20 L592.73,137.69 L592.84,137.18 L592.95,136.66 L593.06,136.14 L593.17,135.62 L593.28,135.09 L593.39,134.56 L593.50,134.02 L593.61,133.49 L593.72,132.95 L593.83,132.40 L593.94,131.85 L594.05,131.30 L594.16,130.75 L594.27,130.19 L594.38,129.62 L594.49,129.06 L594.60,128.49 L594.71,127.91 L594.82,127.33 L594.93,126.75 L595.04,126.16 L595.15,125.57 L595.26,124.97 L595.37,124.37 L595.48,123.77 L595.59,123.16 L595.70,122.55 L595.81,121.93 L595.92,121.31 L596.03,120.68 L596.14,120.05 L596.25,119.42 L596.36,118.78 L596.47,118.13 L596.58,117.48 L596.69,116.83 L596.80,116.17 L596.91,115.50 L597.02,114.83 L597.13,114.16 L597.24,113.48 L597.35,112.79 L597.46,112.10 L597.57,111.40 L597.68,110.70 L597.79,109.99 L597.90,109.28 L598.01,108.56 L598.12,107.83 L598.23,107.10 L598.34,106.36 L598.45,105.62 L598.56,104.87 L598.67,104.11 L598.78,103.35 L598.89,102.58 L599.00,101.81 L599.11,101.03 L599.22,100.24 L599.33,99.44 L599.44,98.64 L599.55,97.83 L599.66,97.01 L599.77,96.19 L599.88,95.36 L599.99,94.52 L600.10,93.67 L600.21,92.82 L600.32,91.96 L600.43,91.09 L600.54,90.21 L600.65,89.32 L600.76,88.43 L600.87,87.52 L600.98,86.61 L601.09,85.69 L601.20,84.76 L601.31,83.82 L601.42,82.88 L601.53,81.92 L601.64,80.95 L601.75,79.98 L601.86,78.99 L601.97,78.00 L602.08,76.99 L602.19,75.97 L602.30,74.95 L602.41,73.91 L602.52,72.86 L602.63,71.80 L602.74,70.73 L602.85,69.65 L602.96,68.55 L603.07,67.45 L603.18,66.33 L603.29,65.20 L603.40,64.06 L603.51,62.90 L603.62,61.73 L603.73,60.55 L603.84,59.35 L603.95,58.14 L604.06,56.92 L604.17,55.68 L604.28,54.43 L604.39,53.16 L604.50,51.88 L604.61,50.58 L604.72,49.26 L604.83,47.93 L604.94,46.58 L605.05,45.22 L605.16,43.84 L605.27,42.44 L605.38,41.02 L605.49,39.59 L605.60,38.13 L605.71,36.66 L605.82,35.16 L605.93,33.65 L606.04,32.11 L606.15,30.56 L606.26,28.98 L606.37,27.38 L606.48,25.76 L606.59,24.11 L606.70,22.45 L606.81,20.75 L606.92,19.03 L607.03,17.29 L607.14,15.52 L607.25,13.72 L607.36,11.90" stroke="#00f" stroke-dasharray="18.49 13.07 19.40 13.16 19.40 13.24 19.40 13.33 19.40 13.42 19.40 13.51 19.40 13.60 19.40 13.68 19.40 13.77 19.40 13.86 19.40 13.95 19.40 14.04 19.40 14.12 19.40 14.21 19.40 14.30 19.40 14.39 19.40 14.48 19.40 14.56 19.40 14.65 19.40 14.74 19.40 14.83 19.40 1000.00"/>
<path d="M206.70,358.87 L207.81,356.97 L208.91,355.07 L210.02,353.18 L211.13,351.28 L212.24,349.39 L213.34,347.49 L214.45,345.60 L215.56,343.71 L216.66,341.82 L217.77,339.94 L218.88,338.05 L219.98,336.17 L221.09,334.29 L222.20,332.40 L223.31,330.53 L224.41,328.65 L225.52,326.77 L226.63,324.90 L227.73,323.02 L228.84,321.15 L229.95,319.28 L231.05,317.41 L232.16,315.54 L233.27,313.68 L234.38,311.81 L235.48,309.95 L236.59,308.09 L237.70,306.23 L238.80,304.37 L239.91,302.51 L241.02,300.66 L242.13,298.80 L243.23,296.95 L244.34,295.10 L245.45,293.25 L246.55,291.40 L247.66,289.56 L248.77,287.71 L249.87,285.87 L250.98,284.03 L252.09,282.19 L253.20,280.35 L254.30,278.51 L255.41,276.67 L256.52,274.84 L257.62,273.01 L258.73,271.17 L259.84,269.34 L260.94,267.52 L262.05,265.69 L263.16,263.86 L264.27,262.04 L265.37,260.22 L266.48,258.39 L267.59,256.58 L268.69,254.76 L269.80,252.94 L270.91,251.13 L272.02,249.31 L273.12,247.50 L274.23,245.69 L275.34,243.88 L276.44,242.07 L277.55,240.27 L278.66,238.46 L279.76,236.66 L280.87,234.86 L281.98,233.06 L283.09,231.26 L284.19,229.46 L285.30,227.66 L286.41,225.87 L287.51,224.08 L288.62,222.29 L289.73,220.50 L290.83,218.71 L291.94,216.92 L293.05,215.14 L294.16,213.35 L295.26,211.57 L296.37,209.79 L297.48,208.01 L298.58,206.23 L299.69,204.46 L300.80,202.68 L301.91,200.91 L303.01,199.14 L304.12,197.37 L305.23,195.60 L306.33,193.83 L307.44,192.07 L308.55,190.30 L309.65,188.54 L310.76,186.78 L311.87,185.02 L312.98,183.26 L314.08,181.50 L315.19,179.75 L316.30,177.99 L317.40,176.24 L318.51,174.49 L319.62,172.74 L320.72,170.99 L321.83,169.25 L322.94,167.50 L324.05,165.76 L325.15,164.02 L326.26,162.28 L327.37,160.54 L328.47,158.80 L329.58,157.06 L330.69,155.33 L331.79,153.60 L332.90,151.87 L334.01,150.14 L335.12,148.41 L336.22,146.68 L337.33,144.95 L338.44,143.23 L339.54,141.51 L340.65,139.79 L341.76,138.07 L342.87,136.35 L343.97,134.63 L345.08,132.92 L346.19,131.21 L347.29,129.49 L348.40,127.78 L349.51,126.07 L350.61,124.37 L351.72,122.66 L352.83,120.96 L353.94,119.25 L355.04,117.55 L356.15,115.85 L357.26,114.15 L358.36,112.46 L359.47,110.76 L360.58,109.07 L361.68,107.37 L362.79,105.68 L363.90,103.99 L365.01,102.31 L366.11,100.62 L367.22,98.93 L368.33,97.25 L369.43,95.57 L370.54,93.89 L371.65,92.21 L372.76,90.53 L373.86,88.85 L374.97,87.18 L376.08,85.51 L377.18,83.84 L378.29,82.17 L379.40,80.50 L380.50,78.83 L381.61,77.16 L382.72,75.50 L383.83,73.84 L384.93,72.18 L386.04,70.52 L387.15,68.86 L388.25,67.20 L389.36,65.55 L390.47,63.89 L391.57,62.24 L392.68,60.59 L393.79,58.94 L394.90,57.29 L396.00,55.65 L397.11,54.00 L398.22,52.36 L399.32,50.72 L400.43,49.08 L401.54,47.44 L402.65,45.80 L403.75,44.17 L404.86,42.53 L405.97,40.90 L407.07,39.27 L408.18,37.64 L409.29,36.01 L410.39,34.38 L411.50,32.76 L412.61,31.13 L413.72,29.51 L414.82,27.89 L415.93,26.27 L417.04,24.65 L418.14,23.04 L419.25,21.42 L420.36,19.81 L421.46,18.20 L422.57,16.59 L423.68,14.98 L424.79,13.37 L425.89,11.77 L427.00,10.16" stroke="#f00" stroke-dasharray="7.7 13.7 19.6 13.7"/>
</g>
<circle cx="491.8" cy="299.9" r="5.6" fill="#000"/>
<text x="502.5" y="322" font-size="20" font-weight="bold" font-style="italic">P</text>
<text x="515.3" y="325.7" font-size="15.2" font-weight="bold">exp</text>
</svg>
</body></html>
